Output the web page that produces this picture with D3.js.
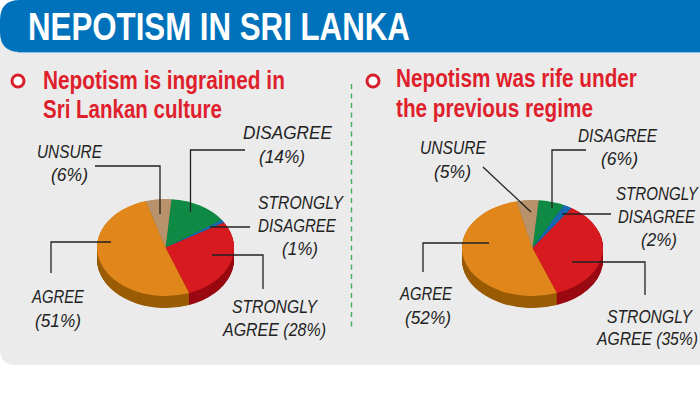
<!DOCTYPE html>
<html><head><meta charset="utf-8">
<script src="https://cdn.jsdelivr.net/npm/d3@7/dist/d3.min.js"></script>
<style>html,body{margin:0;padding:0;background:#fff;overflow:hidden}svg{display:block}
text{font-family:"Liberation Sans Narrow","Liberation Sans",Arial,sans-serif}</style>
</head><body><script>
const categories = ["DISAGREE","STRONGLY DISAGREE","STRONGLY AGREE","AGREE","UNSURE"];
const culture = [14,1,28,51,6];
const regime = [6,2,35,52,5];
const topColors = ["#0f8a45","#1668b0","#d71920","#e0861a","#b8926a"];
const sideColors = ["#0a6030","#0f4a80","#9a0a12","#9a5c05","#80654a"];

const W=700,H=400;
const svg=d3.select("body").append("svg").attr("width",W).attr("height",H);

// places a text at x,y and squeezes it horizontally to the wanted width
function fitted(str,x,y,w,size,attrs){
  const t=svg.append("text").text(str).attr("font-size",size);
  Object.entries(attrs).forEach(([k,v])=>t.attr(k,v));
  const natural=t.node().getComputedTextLength();
  t.attr("transform",`translate(${x},${y}) scale(${w/natural},1)`);
  return t;
}

// background panel and header
svg.append("path").attr("d",`M0,40H700V365H16Q0,365 0,349Z`).attr("fill","#ebebeb");
svg.append("path").attr("d",`M700,0H20Q0,0 0,20V32Q0,52 20,52H700Z`).attr("fill","#0072bc");
svg.append("rect").attr("x",18).attr("y",52).attr("width",682).attr("height",1).attr("fill","#8fbfe0");
fitted("NEPOTISM IN SRI LANKA",28,39.5,382,39,{"font-weight":700,"fill":"#fff"});

// divider
svg.append("line").attr("x1",351.5).attr("x2",351.5).attr("y1",84).attr("y2",331)
  .attr("stroke","#3fae5a").attr("stroke-width",1.4).attr("stroke-dasharray","5 4.5");

function heading(cx,lines){
  svg.append("circle").attr("cx",cx).attr("cy",81).attr("r",6).attr("fill","#fff")
    .attr("stroke","#d8202c").attr("stroke-width",3);
  lines.forEach(l=>fitted(l.t,l.x,l.y,l.w,25,{"font-weight":700,"fill":"#e01f2d"}));
}
heading(18,[{t:"Nepotism is ingrained in",x:43,y:89,w:242},{t:"Sri Lankan culture",x:43,y:118,w:179}]);
heading(373,[{t:"Nepotism was rife under",x:396,y:87,w:241},{t:"the previous regime",x:396,y:117,w:197}]);

function pie3d(values,cx,cy,rx,ry,depth){
  const arcs=d3.pie().sort(null).startAngle(5*Math.PI/180).endAngle(365*Math.PI/180)(values);
  const arc=d3.arc().innerRadius(0).outerRadius(rx);
  const g=svg.append("g");
  d3.range(depth,0,-0.5).forEach(d=>{
    const layer=g.append("g").attr("transform",`translate(${cx},${cy+d}) scale(1,${ry/rx})`);
    layer.selectAll("path").data(arcs).join("path").attr("d",arc)
      .attr("fill",(a,i)=>sideColors[i]);
  });
  const top=g.append("g").attr("transform",`translate(${cx},${cy}) scale(1,${ry/rx})`);
  top.selectAll("path").data(arcs).join("path").attr("d",arc).attr("fill",(a,i)=>topColors[i]);
}
pie3d(culture,165.5,247.5,68.5,48.5,12);
pie3d(regime,532.5,248,70.5,48,12);

function leaders(list){
  list.forEach(p=>svg.append("path").attr("d",d3.line()(p)).attr("fill","none")
    .attr("stroke","#222").attr("stroke-width",1.3));
}
leaders([
 [[95,166],[160,166],[160,214]],
 [[245,150],[190.5,150],[190.5,212]],
 [[250,227],[210,227]],
 [[212,255],[263,255],[263,289]],
 [[111,242],[51,242],[51,273]],
 [[483,167],[531,212]],
 [[586,150],[552,150],[552,208]],
 [[611,214],[562,214]],
 [[572,262],[645,262],[645,295]],
 [[489,243],[423,243],[423,272]]
]);

function labels(list){
  list.forEach(l=>fitted(l[0],l[1],l[2],l[3],19,{"font-style":"italic","fill":"#222"}));
}
labels([
 ["UNSURE",37,158,65],["(6%)",51,181,37],
 ["DISAGREE",243,139,89],["(14%)",259,163,46],
 ["STRONGLY",258,209,85],["DISAGREE",258,232,78],["(1%)",282,255,36],
 ["STRONGLY",232,313,85],["AGREE (28%)",223,336,103],
 ["AGREE",32,303,52],["(51%)",35,327,46],
 ["UNSURE",420,154,66],["(5%)",434,178,37],
 ["DISAGREE",578,142,79],["(6%)",601,165,37],
 ["STRONGLY",616,200,82],["DISAGREE",618,223,77],["(2%)",641,246,36],
 ["STRONGLY",607,323,85],["AGREE (35%)",597,345,101],
 ["AGREE",400,300,52],["(52%)",405,324,46]
]);
</script></body></html>
